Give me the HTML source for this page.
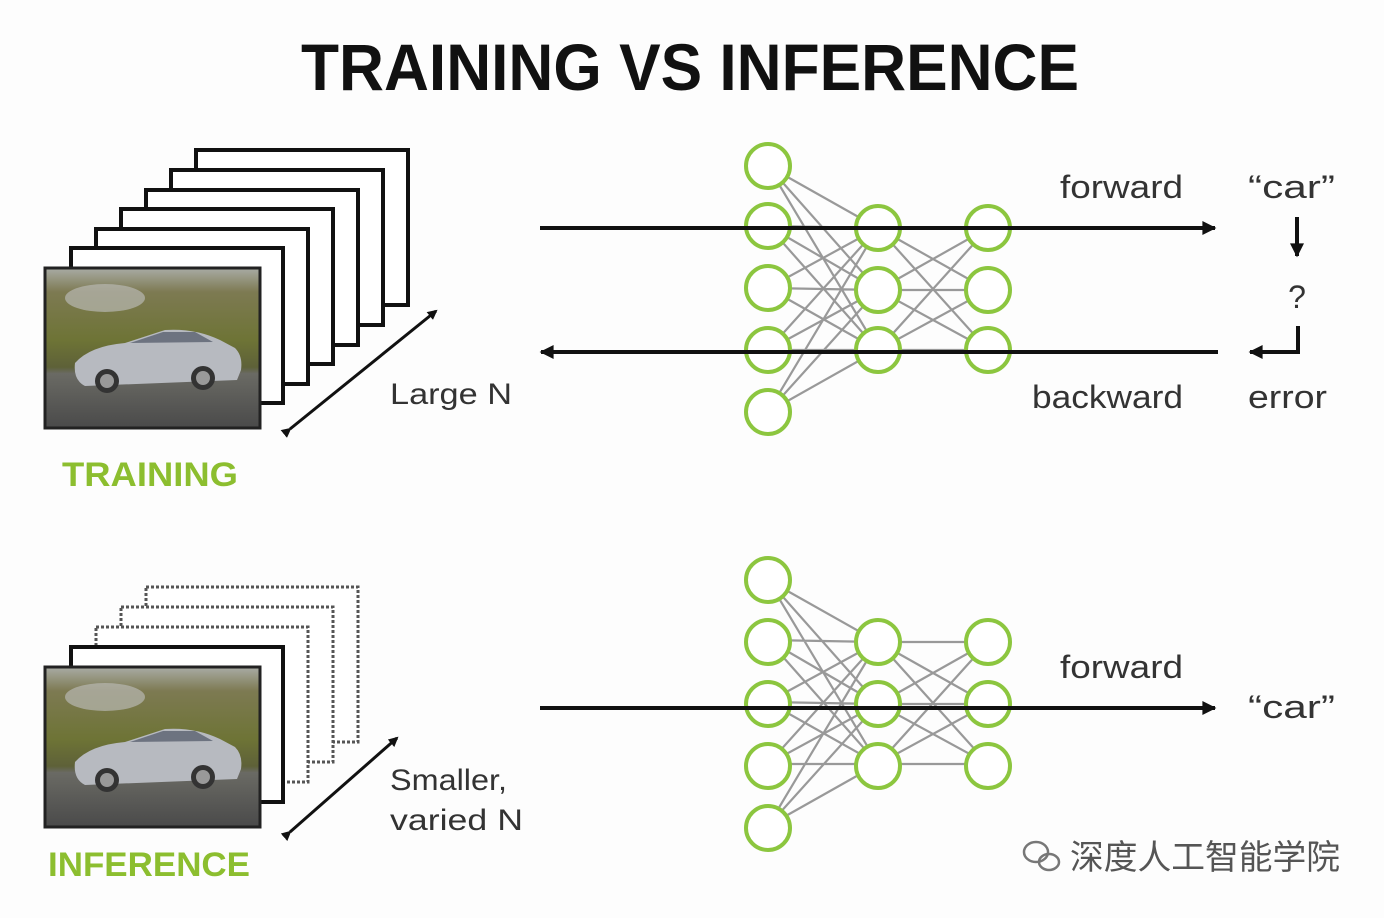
<!DOCTYPE html>
<html><head><meta charset="utf-8"><style>
html,body{margin:0;padding:0;background:#fdfdfd;}
svg{display:block}
</style></head><body>
<svg width="1384" height="918" viewBox="0 0 1384 918" xmlns="http://www.w3.org/2000/svg" font-family="Liberation Sans, sans-serif">
<defs>
<linearGradient id="bg" x1="0" y1="0" x2="0" y2="1">
<stop offset="0" stop-color="#a9aba5"/><stop offset="0.15" stop-color="#7d7a52"/><stop offset="0.45" stop-color="#6e7436"/><stop offset="0.62" stop-color="#5e6138"/><stop offset="0.66" stop-color="#6a6a64"/><stop offset="1" stop-color="#4a4a4a"/>
</linearGradient>
<marker id="ah" markerWidth="10" markerHeight="10" refX="8" refY="5" orient="auto" markerUnits="userSpaceOnUse"><path d="M0,0 L10,5 L0,10 z" fill="#111"/></marker>
<marker id="ah2" viewBox="0 0 10 10" markerWidth="16" markerHeight="14" refX="9" refY="5" orient="auto" markerUnits="userSpaceOnUse"><path d="M0,0 L10,5 L0,10 z" fill="#111"/></marker>
<g id="photo">
<rect x="0" y="0" width="215" height="160" fill="url(#bg)" stroke="#222" stroke-width="3"/>
<ellipse cx="60" cy="30" rx="40" ry="14" fill="#b8b8b2" opacity="0.7"/>
<path d="M30,95 Q45,78 80,75 L120,62 Q150,60 175,72 L190,80 Q198,88 196,102 L192,112 L40,118 Q28,112 30,95z" fill="#b7bac0"/>
<path d="M85,75 L118,64 L150,64 L168,74z" fill="#6d7380"/>
<circle cx="62" cy="113" r="12" fill="#333"/><circle cx="158" cy="110" r="12" fill="#333"/>
<circle cx="62" cy="113" r="7" fill="#999"/><circle cx="158" cy="110" r="7" fill="#999"/>
</g>
</defs>

<text x="690" y="90" text-anchor="middle" font-size="66" font-weight="bold" fill="#111" textLength="778" lengthAdjust="spacingAndGlyphs">TRAINING VS INFERENCE</text>

<g fill="#fff" stroke="#111" stroke-width="4">
<rect x="196" y="150" width="212" height="155"/>
<rect x="171" y="170" width="212" height="155"/>
<rect x="146" y="190" width="212" height="155"/>
<rect x="121" y="209" width="212" height="155"/>
<rect x="96" y="229" width="212" height="155"/>
<rect x="71" y="248" width="212" height="155"/>
</g>
<use href="#photo" x="45" y="268"/>
<line x1="290" y1="429" x2="436" y2="311" stroke="#111" stroke-width="3" marker-end="url(#ah)" marker-start="url(#ah)"/>
<text x="390" y="404" font-size="30" fill="#333" textLength="122" lengthAdjust="spacingAndGlyphs">Large N</text>
<text x="62" y="486" font-size="34" font-weight="bold" fill="#8cbe2f" textLength="176" lengthAdjust="spacingAndGlyphs">TRAINING</text>

<g fill="#fff" stroke="#555" stroke-width="3" stroke-dasharray="3,2">
<rect x="146" y="587" width="212" height="155"/>
<rect x="121" y="607" width="212" height="155"/>
<rect x="96" y="627" width="212" height="155"/>
</g>
<rect x="71" y="647" width="212" height="155" fill="#fff" stroke="#111" stroke-width="4"/>
<use href="#photo" x="45" y="667"/>
<line x1="290" y1="832" x2="397" y2="738" stroke="#111" stroke-width="3" marker-end="url(#ah)" marker-start="url(#ah)"/>
<text x="390" y="790" font-size="30" fill="#333" textLength="117" lengthAdjust="spacingAndGlyphs">Smaller,</text>
<text x="390" y="830" font-size="30" fill="#333" textLength="133" lengthAdjust="spacingAndGlyphs">varied N</text>
<text x="48" y="876" font-size="34" font-weight="bold" fill="#8cbe2f" textLength="202" lengthAdjust="spacingAndGlyphs">INFERENCE</text>

<g stroke="#999" stroke-width="2.2">
<path d="M768,166L878,228M768,166L878,290M768,166L878,350M768,226L878,228M768,226L878,290M768,226L878,350M768,288L878,228M768,288L878,290M768,288L878,350M768,350L878,228M768,350L878,290M768,350L878,350M768,412L878,228M768,412L878,290M768,412L878,350M878,228L988,228M878,228L988,290M878,228L988,350M878,290L988,228M878,290L988,290M878,290L988,350M878,350L988,228M878,350L988,290M878,350L988,350"/>
</g>
<g stroke="#999" stroke-width="2.2" transform="translate(0,414)">
<path d="M768,166L878,228M768,166L878,290M768,166L878,350M768,226L878,228M768,226L878,290M768,226L878,350M768,288L878,228M768,288L878,290M768,288L878,350M768,350L878,228M768,350L878,290M768,350L878,350M768,412L878,228M768,412L878,290M768,412L878,350M878,228L988,228M878,228L988,290M878,228L988,350M878,290L988,228M878,290L988,290M878,290L988,350M878,350L988,228M878,350L988,290M878,350L988,350"/>
</g>
<g fill="#fff" stroke="#8cc63f" stroke-width="4">
<circle cx="768" cy="166" r="22"/><circle cx="768" cy="226" r="22"/><circle cx="768" cy="288" r="22"/><circle cx="768" cy="350" r="22"/><circle cx="768" cy="412" r="22"/>
<circle cx="878" cy="228" r="22"/><circle cx="878" cy="290" r="22"/><circle cx="878" cy="350" r="22"/>
<circle cx="988" cy="228" r="22"/><circle cx="988" cy="290" r="22"/><circle cx="988" cy="350" r="22"/>
<circle cx="768" cy="580" r="22"/><circle cx="768" cy="642" r="22"/><circle cx="768" cy="704" r="22"/><circle cx="768" cy="766" r="22"/><circle cx="768" cy="828" r="22"/>
<circle cx="878" cy="642" r="22"/><circle cx="878" cy="704" r="22"/><circle cx="878" cy="766" r="22"/>
<circle cx="988" cy="642" r="22"/><circle cx="988" cy="704" r="22"/><circle cx="988" cy="766" r="22"/>
</g>

<line x1="540" y1="228" x2="1215" y2="228" stroke="#111" stroke-width="4" marker-end="url(#ah2)"/>
<line x1="1218" y1="352" x2="541" y2="352" stroke="#111" stroke-width="4" marker-end="url(#ah2)"/>
<line x1="540" y1="708" x2="1215" y2="708" stroke="#111" stroke-width="4" marker-end="url(#ah2)"/>
<text x="1060" y="198" font-size="32" fill="#333" textLength="123" lengthAdjust="spacingAndGlyphs">forward</text>
<text x="1032" y="408" font-size="32" fill="#333" textLength="151" lengthAdjust="spacingAndGlyphs">backward</text>
<text x="1060" y="678" font-size="32" fill="#333" textLength="123" lengthAdjust="spacingAndGlyphs">forward</text>
<text x="1248" y="198" font-size="32" fill="#333" textLength="87" lengthAdjust="spacingAndGlyphs">“car”</text>
<text x="1248" y="718" font-size="32" fill="#333" textLength="87" lengthAdjust="spacingAndGlyphs">“car”</text>
<text x="1248" y="408" font-size="32" fill="#333" textLength="79" lengthAdjust="spacingAndGlyphs">error</text>
<text x="1297" y="308" font-size="32" fill="#333" text-anchor="middle">?</text>
<line x1="1297" y1="217" x2="1297" y2="256" stroke="#111" stroke-width="4" marker-end="url(#ah2)"/>
<path d="M1298,326 L1298,352 L1250,352" fill="none" stroke="#111" stroke-width="4" marker-end="url(#ah2)"/>

<g fill="none" stroke="#777" stroke-width="2.5">
<ellipse cx="1036" cy="852" rx="12" ry="10"/><ellipse cx="1049" cy="862" rx="10" ry="8"/>
</g>
<text x="1070" y="869" font-size="34" fill="#555" font-family="Liberation Sans, Noto Sans CJK SC, sans-serif" textLength="270" lengthAdjust="spacingAndGlyphs">深度人工智能学院</text>
</svg>
</body></html>
